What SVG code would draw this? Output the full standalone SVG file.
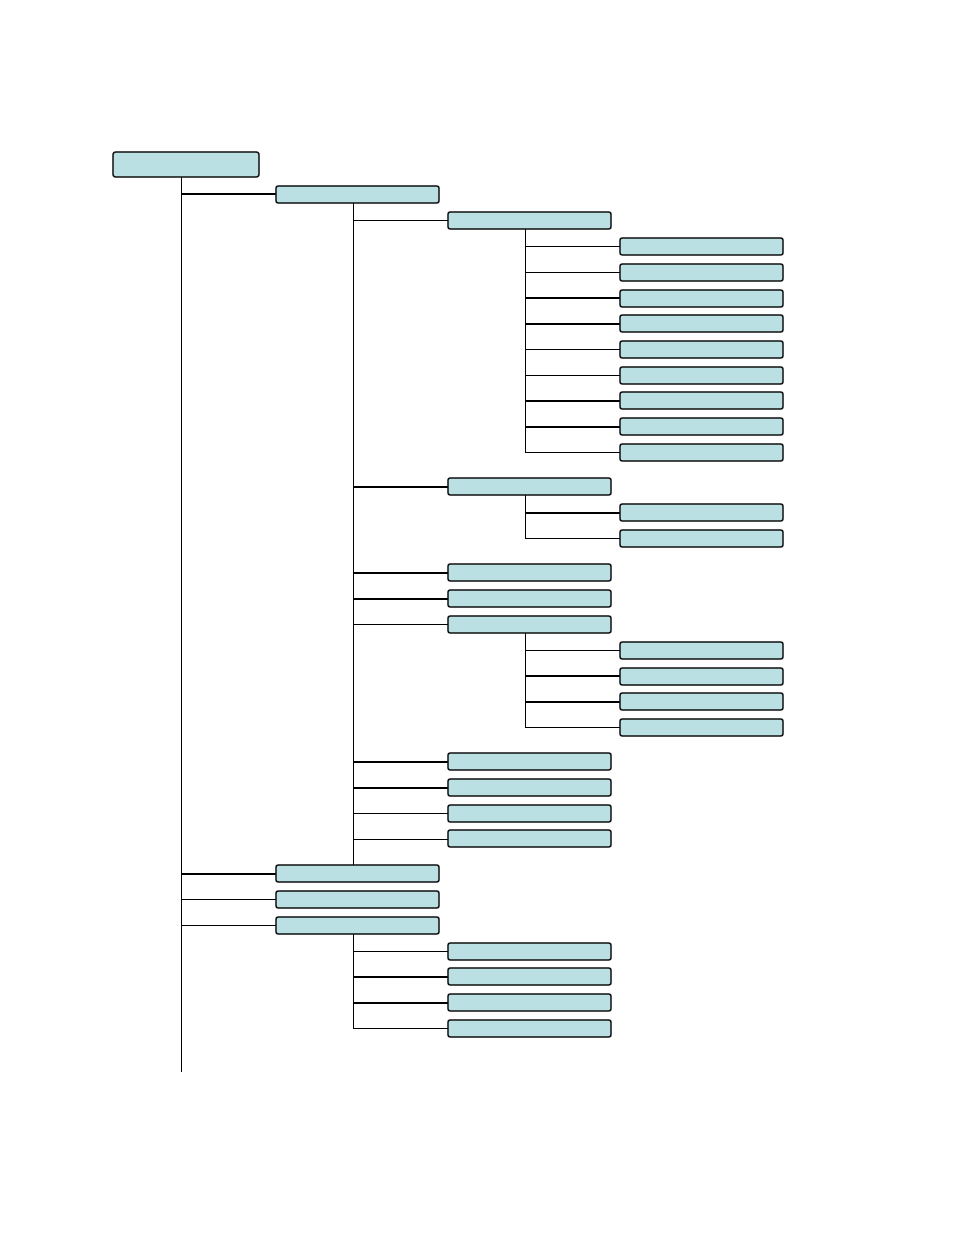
<svg xmlns="http://www.w3.org/2000/svg" width="954" height="1235" viewBox="0 0 954 1235">
<style>
.n{fill:#bbe0e3;stroke:#111;stroke-width:1.5}
.c{stroke:#000;fill:none;stroke-width:1}
.t{stroke:#000;fill:none;stroke-width:2}
</style>
<rect width="954" height="1235" fill="#fff"/>
<g id="connectors">
<line class="c" x1="181.5" y1="177" x2="181.5" y2="1072"/>
<line class="t" x1="181" y1="194" x2="276" y2="194"/>
<line class="t" x1="181" y1="874" x2="276" y2="874"/>
<line class="c" x1="181" y1="899.5" x2="276" y2="899.5"/>
<line class="c" x1="181" y1="925.5" x2="276" y2="925.5"/>
<line class="c" x1="353.5" y1="203" x2="353.5" y2="866"/>
<line class="c" x1="353" y1="220.5" x2="448" y2="220.5"/>
<line class="t" x1="353" y1="487" x2="448" y2="487"/>
<line class="t" x1="353" y1="573" x2="448" y2="573"/>
<line class="t" x1="353" y1="599" x2="448" y2="599"/>
<line class="c" x1="353" y1="624.5" x2="448" y2="624.5"/>
<line class="t" x1="353" y1="762" x2="448" y2="762"/>
<line class="t" x1="353" y1="788" x2="448" y2="788"/>
<line class="c" x1="353" y1="813.5" x2="448" y2="813.5"/>
<line class="c" x1="353" y1="839.5" x2="448" y2="839.5"/>
<line class="c" x1="525.5" y1="229" x2="525.5" y2="453"/>
<line class="c" x1="525" y1="246.5" x2="620" y2="246.5"/>
<line class="c" x1="525" y1="272.5" x2="620" y2="272.5"/>
<line class="t" x1="525" y1="298" x2="620" y2="298"/>
<line class="t" x1="525" y1="324" x2="620" y2="324"/>
<line class="c" x1="525" y1="349.5" x2="620" y2="349.5"/>
<line class="c" x1="525" y1="375.5" x2="620" y2="375.5"/>
<line class="t" x1="525" y1="401" x2="620" y2="401"/>
<line class="t" x1="525" y1="427" x2="620" y2="427"/>
<line class="c" x1="525" y1="452.5" x2="620" y2="452.5"/>
<line class="c" x1="525.5" y1="495" x2="525.5" y2="539"/>
<line class="t" x1="525" y1="513" x2="620" y2="513"/>
<line class="c" x1="525" y1="538.5" x2="620" y2="538.5"/>
<line class="c" x1="525.5" y1="633" x2="525.5" y2="728"/>
<line class="c" x1="525" y1="650.5" x2="620" y2="650.5"/>
<line class="t" x1="525" y1="676" x2="620" y2="676"/>
<line class="t" x1="525" y1="702" x2="620" y2="702"/>
<line class="c" x1="525" y1="727.5" x2="620" y2="727.5"/>
<line class="c" x1="353.5" y1="934" x2="353.5" y2="1029"/>
<line class="c" x1="353" y1="951.5" x2="448" y2="951.5"/>
<line class="t" x1="353" y1="977" x2="448" y2="977"/>
<line class="t" x1="353" y1="1003" x2="448" y2="1003"/>
<line class="c" x1="353" y1="1028.5" x2="448" y2="1028.5"/>
</g>
<g id="root"><rect class="n" x="113" y="152" width="146" height="25" rx="3"/></g>
<g id="n1"><rect class="n" x="276" y="186" width="163" height="17" rx="2.5"/></g>
<g id="n1-1"><rect class="n" x="448" y="212" width="163" height="17" rx="2.5"/></g>
<g id="n1-1-1"><rect class="n" x="620" y="238" width="163" height="17" rx="2.5"/></g>
<g id="n1-1-2"><rect class="n" x="620" y="264" width="163" height="17" rx="2.5"/></g>
<g id="n1-1-3"><rect class="n" x="620" y="290" width="163" height="17" rx="2.5"/></g>
<g id="n1-1-4"><rect class="n" x="620" y="315" width="163" height="17" rx="2.5"/></g>
<g id="n1-1-5"><rect class="n" x="620" y="341" width="163" height="17" rx="2.5"/></g>
<g id="n1-1-6"><rect class="n" x="620" y="367" width="163" height="17" rx="2.5"/></g>
<g id="n1-1-7"><rect class="n" x="620" y="392" width="163" height="17" rx="2.5"/></g>
<g id="n1-1-8"><rect class="n" x="620" y="418" width="163" height="17" rx="2.5"/></g>
<g id="n1-1-9"><rect class="n" x="620" y="444" width="163" height="17" rx="2.5"/></g>
<g id="n1-2"><rect class="n" x="448" y="478" width="163" height="17" rx="2.5"/></g>
<g id="n1-2-1"><rect class="n" x="620" y="504" width="163" height="17" rx="2.5"/></g>
<g id="n1-2-2"><rect class="n" x="620" y="530" width="163" height="17" rx="2.5"/></g>
<g id="n1-3"><rect class="n" x="448" y="564" width="163" height="17" rx="2.5"/></g>
<g id="n1-4"><rect class="n" x="448" y="590" width="163" height="17" rx="2.5"/></g>
<g id="n1-5"><rect class="n" x="448" y="616" width="163" height="17" rx="2.5"/></g>
<g id="n1-5-1"><rect class="n" x="620" y="642" width="163" height="17" rx="2.5"/></g>
<g id="n1-5-2"><rect class="n" x="620" y="668" width="163" height="17" rx="2.5"/></g>
<g id="n1-5-3"><rect class="n" x="620" y="693" width="163" height="17" rx="2.5"/></g>
<g id="n1-5-4"><rect class="n" x="620" y="719" width="163" height="17" rx="2.5"/></g>
<g id="n1-6"><rect class="n" x="448" y="753" width="163" height="17" rx="2.5"/></g>
<g id="n1-7"><rect class="n" x="448" y="779" width="163" height="17" rx="2.5"/></g>
<g id="n1-8"><rect class="n" x="448" y="805" width="163" height="17" rx="2.5"/></g>
<g id="n1-9"><rect class="n" x="448" y="830" width="163" height="17" rx="2.5"/></g>
<g id="n2"><rect class="n" x="276" y="865" width="163" height="17" rx="2.5"/></g>
<g id="n3"><rect class="n" x="276" y="891" width="163" height="17" rx="2.5"/></g>
<g id="n4"><rect class="n" x="276" y="917" width="163" height="17" rx="2.5"/></g>
<g id="n4-1"><rect class="n" x="448" y="943" width="163" height="17" rx="2.5"/></g>
<g id="n4-2"><rect class="n" x="448" y="968" width="163" height="17" rx="2.5"/></g>
<g id="n4-3"><rect class="n" x="448" y="994" width="163" height="17" rx="2.5"/></g>
<g id="n4-4"><rect class="n" x="448" y="1020" width="163" height="17" rx="2.5"/></g>
</svg>
